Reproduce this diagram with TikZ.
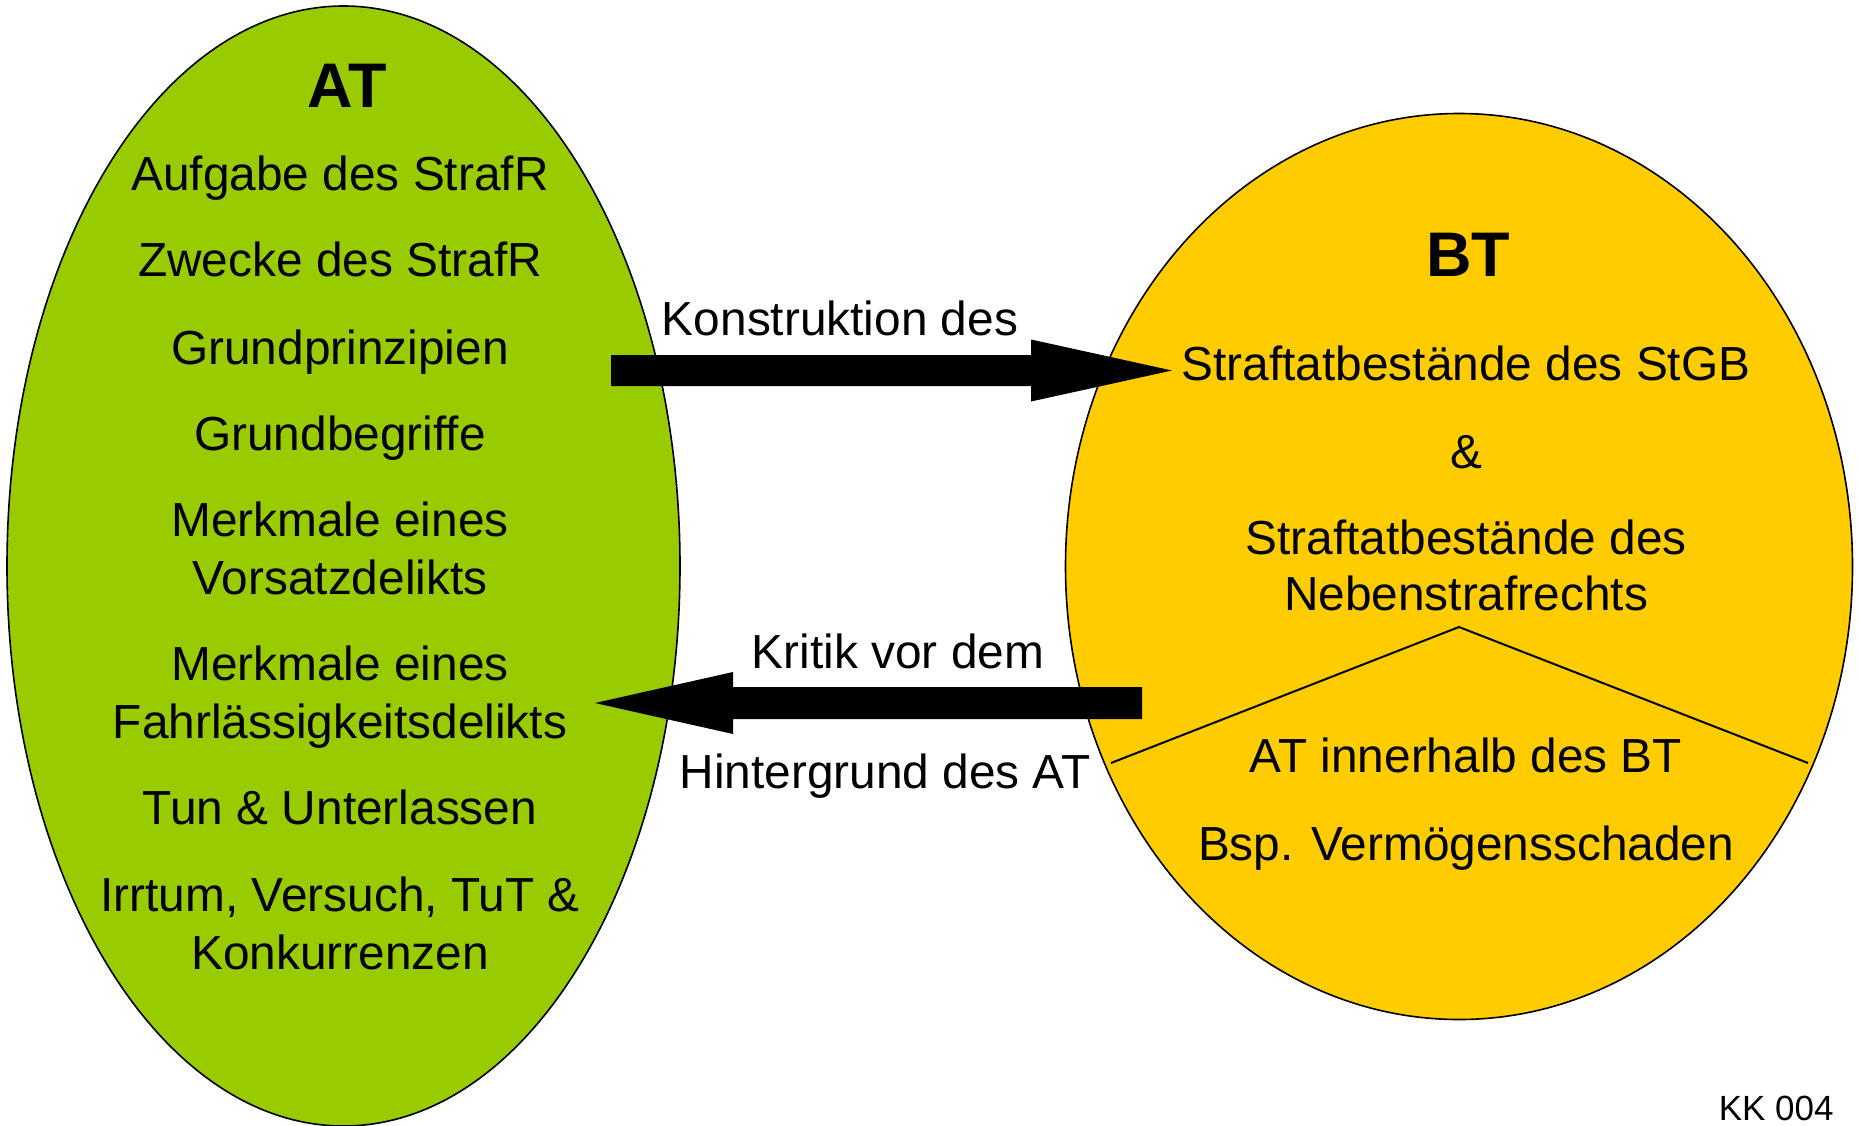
\documentclass[tikz,border=0pt]{standalone}
\usepackage{fontspec}
\setmainfont{Liberation Sans}
\usetikzlibrary{calc}
\definecolor{atgreen}{HTML}{99CC00}
\definecolor{btyellow}{HTML}{FFCC00}
\begin{document}
\begin{tikzpicture}[x=0.5pt,y=-0.5pt,
  bodytext/.style={anchor=base,inner sep=0pt,align=center,font=\fontsize{23.9}{29}\selectfont},
  headtext/.style={anchor=base,inner sep=0pt,font=\fontsize{31.5}{36}\selectfont\bfseries},
  blockarrow/.style={fill=black,draw=none},
  divider/.style={draw=black,line width=1pt}]
\useasboundingbox (0,0) rectangle (1858,1125);
% ellipses
\draw[fill=atgreen,line width=0.8pt] (343.5,566) ellipse [x radius=336.5,y radius=560];
\draw[fill=btyellow,line width=0.8pt] (1459,566.5) ellipse [x radius=393.5,y radius=453];
% AT texts (multi-line nodes are placed by the baseline of their last line)
\node[headtext] (at) at (347,107.5) {AT};
\node[bodytext] (a1) at (340,190) {Aufgabe des StrafR};
\node[bodytext] (a2) at (340,276) {Zwecke des StrafR};
\node[bodytext] (a3) at (340,364) {Grundprinzipien};
\node[bodytext] (a4) at (340,450) {Grundbegriffe};
\node[bodytext] (a5) at (340,594) {Merkmale eines\\Vorsatzdelikts};
\node[bodytext] (a6) at (340,738) {Merkmale eines\\Fahrlässigkeitsdelikts};
\node[bodytext] (a7) at (340,824) {Tun \& Unterlassen};
\node[bodytext] (a8) at (340,969) {Irrtum, Versuch, TuT \&\\Konkurrenzen};
% BT texts
\node[headtext] (bt) at (1468,276) {BT};
\node[bodytext] (b1) at (1466,380) {Straftatbestände des StGB};
\node[bodytext] (b2) at (1466,468) {\&};
\node[bodytext,font=\fontsize{23.9}{28}\selectfont] (b3) at (1466,610) {Straftatbestände des\\Nebenstrafrechts};
\node[bodytext] (b4) at (1466,772) {AT innerhalb des BT};
\node[bodytext] (b5) at (1466,860) {Bsp. Vermögensschaden};
% divider lines
\coordinate (dl) at (1111,763);
\coordinate (dt) at (1459,627);
\coordinate (dr) at (1808,763);
\draw[divider] (dl) -- (dt) -- (dr);
% arrow 1 (AT -> BT)
\coordinate (k1) at (611,370.5);
\coordinate (k2) at (1172,370.5);
\fill[blockarrow] ($(k1)+(0,-15.5)$) -- ($(k2)+(-141,-15.5)$) -- ($(k2)+(-141,-31)$) -- (k2)
  -- ($(k2)+(-141,31)$) -- ($(k2)+(-141,15.5)$) -- ($(k1)+(0,15.5)$) -- cycle;
\node[bodytext] (l1) at (840,335) {Konstruktion des};
% arrow 2 (BT -> AT)
\coordinate (r1) at (1142,703);
\coordinate (r2) at (595,703);
\fill[blockarrow] ($(r1)+(0,-16)$) -- ($(r2)+(138,-16)$) -- ($(r2)+(138,-31)$) -- (r2)
  -- ($(r2)+(138,31)$) -- ($(r2)+(138,16)$) -- ($(r1)+(0,16)$) -- cycle;
\node[bodytext] (l2) at (898,668) {Kritik vor dem};
\node[bodytext] (l3) at (885,788) {Hintergrund des AT};
% code
\node[anchor=base east,inner sep=0pt,font=\fontsize{17.5}{20}\selectfont] (kk) at (1834,1120) {KK 004};
\end{tikzpicture}
\end{document}
